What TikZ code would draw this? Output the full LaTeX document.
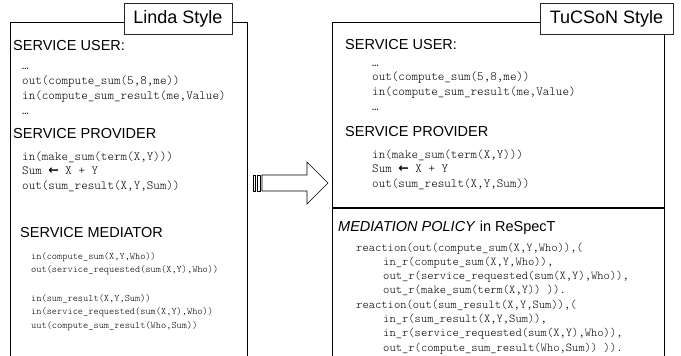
\documentclass[tikz,border=0pt]{standalone}
\usepackage{fontspec}
\setmainfont{Liberation Sans}
\setmonofont{lmmonolt10-regular.otf}
\newfontfamily\arrowfont{DejaVu Sans}
\begin{document}
\begin{tikzpicture}[x=1pt,y=-1pt,
  frame/.style={draw=black, line width=0.9pt},
  tag/.style={draw=black!85, fill=white, line width=0.7pt, inner sep=0pt,
    minimum height=31pt, font=\fontsize{18}{20}\selectfont},
  head/.style={anchor=base west, inner sep=0pt, font=\fontsize{14.5}{17}\selectfont},
  codebig/.style={anchor=base west, inner sep=0pt, font=\ttfamily\fontsize{12.5}{14}\selectfont},
  codesmall/.style={anchor=base west, inner sep=0pt, font=\ttfamily\fontsize{9.9}{11}\selectfont},
  coderule/.style={anchor=base west, inner sep=0pt, font=\ttfamily\fontsize{12}{13}\selectfont},
  shiftarrow/.style={draw=black, fill=white, line width=0.6pt}]
\useasboundingbox (0,0) rectangle (681,356);

% ---------- left panel: Linda style ----------
\draw[frame] (10,356) |- (247,22) -- (247,356);
\node[tag, minimum width=108pt] (lindatag) at (178,18.5) {Linda Style};

\node[head] (luhead) at (13,50) {SERVICE USER:};
\foreach \t [count=\i] in {{…},{out(compute\_sum(5,8,me))},{in(compute\_sum\_result(me,Value)},{…}}
  \node[codebig] (lu\i) at (22,69+15*\i-15) {\t};

\node[head] (lphead) at (13,138) {SERVICE PROVIDER};
\foreach \t [count=\i] in {{in(make\_sum(term(X,Y)))},{Sum {\arrowfont\bfseries ←} X + Y},{out(sum\_result(X,Y,Sum))}}
  \node[codebig] (lp\i) at (22,160+14.5*\i-14.5) {\t};

\node[head] (lmhead) at (20,237) {SERVICE MEDIATOR};
\node[codesmall] (lm1) at (31,259) {in(compute\_sum(X,Y,Who))};
\node[codesmall] (lm2) at (31,272.5) {out(service\_requested(sum(X,Y),Who))};
\node[codesmall] (lm3) at (31,301) {in(sum\_result(X,Y,Sum))};
\node[codesmall] (lm4) at (31,314.5) {in(service\_requested(sum(X,Y),Who))};
\node[codesmall] (lm5) at (31,328) {uut(compute\_sum\_result(Who,Sum))};

% ---------- transformation arrow ----------
\draw[shiftarrow] (253,175) rectangle (255.5,191);
\draw[shiftarrow] (257,175) rectangle (260,191);
\draw[shiftarrow] (262,175) -- (307,175) -- (307,162) -- (328,183)
  -- (307,204) -- (307,191) -- (262,191) -- cycle;

% ---------- right panel: TuCSoN style ----------
\draw[frame] (332,356) |- (664,22) -- (664,356);
\draw[black, line width=1.6pt] (332,208) -- (664,208);
\node[tag, minimum width=133pt] (tucsontag) at (606.5,18.5) {TuCSoN Style};

\node[head] (ruhead) at (345,49) {SERVICE USER:};
\foreach \t [count=\i] in {{…},{out(compute\_sum(5,8,me))},{in(compute\_sum\_result(me,Value)},{…}}
  \node[codebig] (ru\i) at (372,66+14.7*\i-14.7) {\t};

\node[head] (rphead) at (345,136) {SERVICE PROVIDER};
\foreach \t [count=\i] in {{in(make\_sum(term(X,Y)))},{Sum {\arrowfont\bfseries ←} X + Y},{out(sum\_result(X,Y,Sum))}}
  \node[codebig] (rp\i) at (372,158+14.5*\i-14.5) {\t};

\node[head] (mphead) at (338,231) {\textit{MEDIATION POLICY} in ReSpecT};
\node[coderule] (r1) at (356,251) {reaction(out(compute\_sum(X,Y,Who)),(};
\node[coderule] (r2) at (383,265.3) {in\_r(compute\_sum(X,Y,Who)),};
\node[coderule] (r3) at (383,279.6) {out\_r(service\_requested(sum(X,Y),Who)),};
\node[coderule] (r4) at (383,293.9) {out\_r(make\_sum(term(X,Y)) )).};
\node[coderule] (r5) at (356,308.2) {reaction(out(sum\_result(X,Y,Sum)),(};
\node[coderule] (r6) at (383,322.5) {in\_r(sum\_result(X,Y,Sum)),};
\node[coderule] (r7) at (383,336.8) {in\_r(service\_requested(sum(X,Y),Who)),};
\node[coderule] (r8) at (383,351.1) {out\_r(compute\_sum\_result(Who,Sum)) )).};
\end{tikzpicture}
\end{document}
